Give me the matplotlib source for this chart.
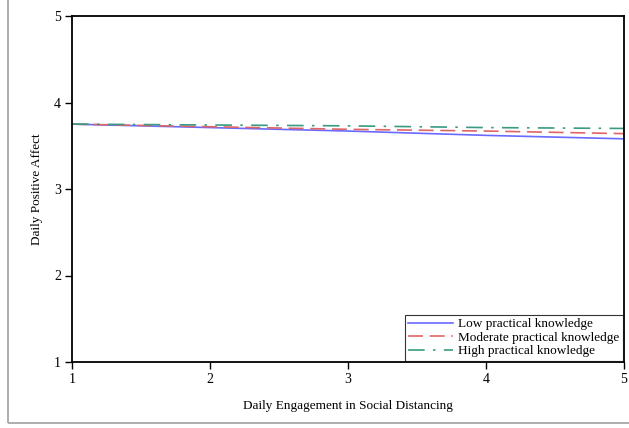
import matplotlib.pyplot as plt
from matplotlib.patches import Rectangle

# simple slopes of daily positive affect on social distancing
x = [1, 2, 3, 4, 5]
low = [3.75, 3.71, 3.67, 3.62, 3.58]
moderate = [3.75, 3.72, 3.69, 3.67, 3.64]
high = [3.75, 3.74, 3.73, 3.71, 3.70]
labels = ["Low practical knowledge", "Moderate practical knowledge", "High practical knowledge"]

plt.rcParams['font.family'] = ['Liberation Serif', 'DejaVu Serif']

fig = plt.figure(figsize=(6.29, 4.28), dpi=100)
ax = fig.add_axes([72/629, 1 - 362/428, (624-72)/629, (362-16)/428])

# light grey frame round the picture
fig.patches.append(Rectangle((8/629, 5/428), 1.2, 1.2, transform=fig.transFigure,
                             fill=False, edgecolor='#a8a8a8', linewidth=1.3))

ax.plot(x, low, color='#6a6aff', linewidth=1.2, label=labels[0])
ax.plot(x, moderate, color='#e06565', linewidth=1.2, dashes=(9, 4), label=labels[1])
ax.plot(x, high, color='#3a9a82', linewidth=1.2, dashes=(10, 5, 1.5, 5), label=labels[2])

ax.set_xlim(1, 5)
ax.set_ylim(1, 5)
ax.set_xticks([1, 2, 3, 4, 5])
ax.set_yticks([1, 2, 3, 4, 5])
ax.tick_params(labelsize=10, length=5, width=1.0, pad=3, direction='out')
for s in ax.spines.values():
    s.set_linewidth(1.3)

ax.set_xlabel("Daily Engagement in Social Distancing", fontsize=9.5, labelpad=10)
ax.set_ylabel("Daily Positive Affect", fontsize=9.5, labelpad=8)

leg = ax.legend(loc='lower right', fontsize=9.5, frameon=True, fancybox=False,
                borderpad=0.25, labelspacing=0.1, handlelength=3.4,
                borderaxespad=0.1, handletextpad=0.4)
leg.get_frame().set_edgecolor('black')
leg.get_frame().set_linewidth(0.8)

fig.savefig("out.png", dpi=100)
